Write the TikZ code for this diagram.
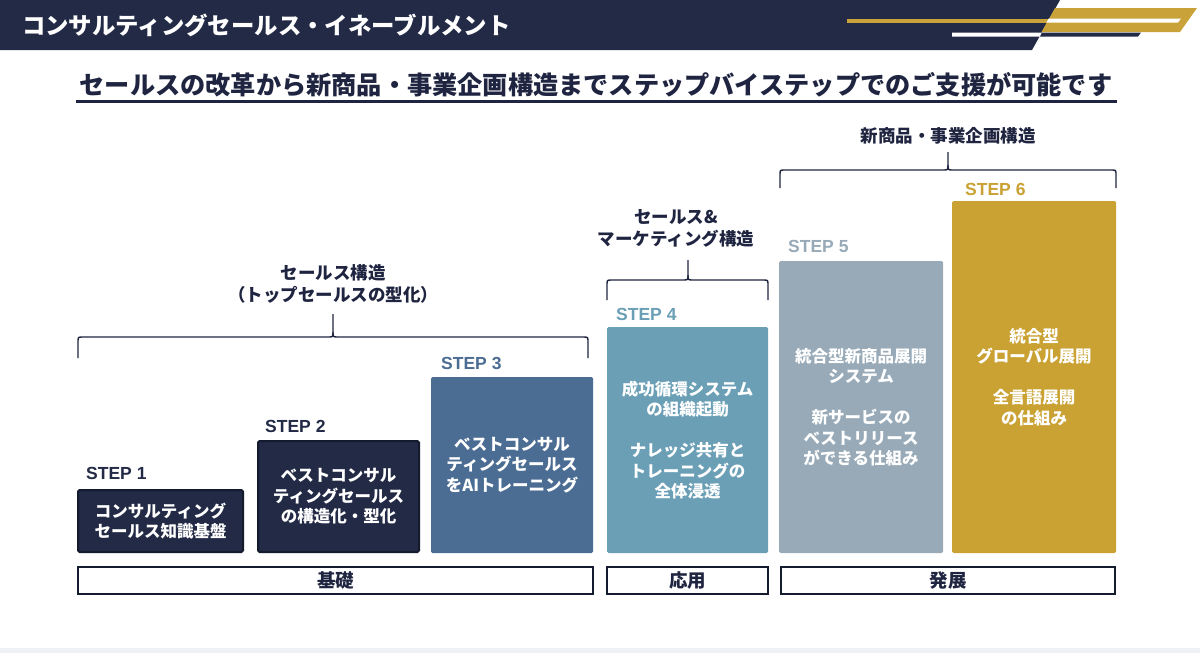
\documentclass[tikz,border=0pt]{standalone}
\usepackage{fontspec}
\setmainfont{Liberation Sans}
\newfontfamily\jp{Noto Sans CJK JP}
\definecolor{navy}{HTML}{222A46}
\definecolor{navyline}{HTML}{151B2E}
\definecolor{txtnavy}{HTML}{1F2540}
\definecolor{gold}{HTML}{C9A23A}
\definecolor{sthree}{HTML}{4B6D93}
\definecolor{sfour}{HTML}{6A9FB6}
\definecolor{sfive}{HTML}{98AAB8}
\definecolor{ssix}{HTML}{CAA233}
\definecolor{bandgray}{HTML}{EEF1F6}
\tikzset{
  stepbox/.style={rectangle, rounded corners=1.5pt, inner sep=0pt, text=white, align=center,
    font=\jp\bfseries\fontsize{16.5}{20.5}\selectfont},
  steplabel/.style={anchor=west, inner sep=0pt, font=\bfseries\fontsize{17.5}{20}\selectfont},
  phasebar/.style={rectangle, draw=navyline, line width=2.5pt, fill=white, inner sep=0pt,
    minimum height=27pt, text=txtnavy, font=\jp\bfseries\fontsize{18.5}{20}\selectfont},
  bracelabel/.style={align=center, inner sep=0pt, text=txtnavy,
    font=\jp\bfseries\fontsize{17.5}{22}\selectfont},
  bracestyle/.style={draw=txtnavy, line width=1.4pt, line join=round}
}
\begin{document}
\begin{tikzpicture}[x=1pt,y=-1pt]
\useasboundingbox (0,0) rectangle (1200,653);
\fill[white] (0,0) rectangle (1200,653);
\fill[bandgray] (0,648) rectangle (1200,653);
% header band
\fill[navy] (0,0) -- (1060,0) -- (1032,50) -- (0,50) -- cycle;
\fill[gold] (847,18.5) rectangle (1050,22.5);
\fill[gold] (1055,8) -- (1197,8) -- (1180,32) -- (1041.5,32) -- cycle;
\fill[white] (1048.5,18.5) -- (1181,18.5) -- (1178,22.5) -- (1046.5,22.5) -- cycle;
\fill[white] (952,32.5) -- (1042,32.5) -- (1040,36.5) -- (952,36.5) -- cycle;
\fill[navy] (1042,32.5) -- (1141,32.5) -- (1138,36.5) -- (1040,36.5) -- cycle;
\node[anchor=west, inner sep=0pt, text=white, font=\jp\bfseries\fontsize{23.4}{25}\selectfont] (title) at (22,25) {コンサルティングセールス・イネーブルメント};
% subtitle
\node[inner sep=0pt, text=txtnavy, font=\jp\bfseries\fontsize{25.2}{27}\selectfont] (subtitle) at (596,85) {セールスの改革から新商品・事業企画構造までステップバイステップでのご支援が可能です};
\fill[txtnavy] (76,99.5) rectangle (1117,103);
% braces
\draw[bracestyle] (78,358) -- (78,342) .. controls (78,337) .. (83,337) -- (328,337) .. controls (333,337) .. (333,332) -- (333,314);
\draw[bracestyle] (333,332) .. controls (333,337) .. (338,337) -- (583,337) .. controls (588,337) .. (588,342) -- (588,358);
\draw[bracestyle] (607,300) -- (607,285) .. controls (607,280) .. (612,280) -- (683,280) .. controls (688,280) .. (688,275) -- (688,260);
\draw[bracestyle] (688,275) .. controls (688,280) .. (693,280) -- (763,280) .. controls (768,280) .. (768,285) -- (768,300);
\draw[bracestyle] (780,188) -- (780,175) .. controls (780,170) .. (785,170) -- (943,170) .. controls (948,170) .. (948,165) -- (948,152);
\draw[bracestyle] (948,165) .. controls (948,170) .. (953,170) -- (1111,170) .. controls (1116,170) .. (1116,175) -- (1116,188);
\node[bracelabel] (lab1) at (333,284) {セールス構造\\（トップセールスの型化）};
\node[bracelabel] (lab2) at (676,228) {セールス\&\\マーケティング構造};
\node[bracelabel] (lab3) at (948,136) {新商品・事業企画構造};
% step boxes
\node[stepbox, fill=navy, draw=navyline, line width=2pt, minimum width=165pt, minimum height=62pt] (b1) at (160.5,521) {コンサルティング\\セールス知識基盤};
\node[stepbox, fill=navy, draw=navyline, line width=2pt, minimum width=161pt, minimum height=111pt] (b2) at (338.5,496.5) {ベストコンサル\\ティングセールス\\の構造化・型化};
\node[stepbox, fill=sthree, minimum width=162pt, minimum height=176pt] (b3) at (512,465) {ベストコンサル\\ティングセールス\\をAIトレーニング};
\node[stepbox, fill=sfour, minimum width=161pt, minimum height=226pt] (b4) at (687.5,440) {成功循環システム\\の組織起動\\[20.5pt]ナレッジ共有と\\トレーニングの\\全体浸透};
\node[stepbox, fill=sfive, minimum width=164pt, minimum height=292pt] (b5) at (861,407) {統合型新商品展開\\システム\\[20.5pt]新サービスの\\ベストリリース\\ができる仕組み};
\node[stepbox, fill=ssix, minimum width=164pt, minimum height=352pt] (b6) at (1034,377) {統合型\\グローバル展開\\[20.5pt]全言語展開\\の仕組み};
% step labels
\node[steplabel, text=navy] (s1) at (86,473) {STEP 1};
\node[steplabel, text=navy] (s2) at (265,426) {STEP 2};
\node[steplabel, text=sthree] (s3) at (441,363) {STEP 3};
\node[steplabel, text=sfour] (s4) at (616,314) {STEP 4};
\node[steplabel, text=sfive] (s5) at (788,246) {STEP 5};
\node[steplabel, text=ssix] (s6) at (965,189) {STEP 6};
% phase bars
\node[phasebar, minimum width=515pt] (p1) at (335.5,580.5) {基礎};
\node[phasebar, minimum width=161pt] (p2) at (687.5,580.5) {応用};
\node[phasebar, minimum width=334pt] (p3) at (948,580.5) {発展};
\end{tikzpicture}
\end{document}
